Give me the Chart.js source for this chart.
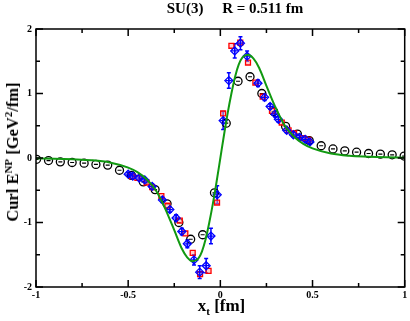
<!DOCTYPE html>
<html>
<head>
<meta charset="utf-8">
<script src="https://cdn.jsdelivr.net/npm/chart.js@4/dist/chart.umd.min.js"></script>
<style>
  body { margin: 0; background: #fff; }
  #wrap { position: relative; width: 410px; height: 321px; }
  #chart { position: absolute; left: 0; top: 0; }
  .lbl { position: absolute; font-family: "Liberation Serif", serif; font-weight: bold; color: #000; white-space: pre; }
  #title { left: 0; width: 470px; top: 0px; text-align: center; font-size: 15px; }
  #xtitle { left: 0; width: 443px; top: 296px; text-align: center; font-size: 17px; }
  #ytitle { left: 13px; top: 152px; font-size: 16.5px; transform: translate(-50%, -50%) rotate(-90deg); }
  sup { font-size: 11px; vertical-align: 6px; line-height: 0; }
  sub { font-size: 11px; vertical-align: -4px; line-height: 0; }
</style>
</head>
<body>
<div id="wrap">
  <canvas id="chart" width="410" height="321"></canvas>
  <div class="lbl" id="title">SU(3)     R = 0.511 fm</div>
  <div class="lbl" id="xtitle">x<sub>t</sub> [fm]</div>
  <div class="lbl" id="ytitle">Curl E<sup>NP</sup> [GeV<sup>2</sup>/fm]</div>
</div>
<script>
// black circles
const blackX = [-0.997, -0.932, -0.868, -0.804, -0.739, -0.675, -0.611, -0.547, -0.482, -0.418, -0.354, -0.289, -0.225, -0.161, -0.096, -0.032,
                0.032, 0.096, 0.161, 0.225, 0.289, 0.354, 0.418, 0.482, 0.547, 0.611, 0.675, 0.739, 0.804, 0.868, 0.932, 0.997];
const blackY = [-0.02, -0.04, -0.06, -0.07, -0.08, -0.10, -0.11, -0.19, -0.27, -0.37, -0.49, -0.71, -1.00, -1.26, -1.19, -0.54,
                0.54, 1.19, 1.26, 1.00, 0.72, 0.49, 0.37, 0.27, 0.19, 0.14, 0.11, 0.09, 0.07, 0.06, 0.05, 0.03];

// red squares
const redX = [-0.48, -0.45, -0.40, -0.37, -0.32, -0.287, -0.22, -0.19, -0.15, -0.11, -0.064, -0.018,
              0.015, 0.06, 0.108, 0.15, 0.19, 0.23, 0.28, 0.333, 0.37, 0.40, 0.45, 0.477];
const redY = [-0.28, -0.31, -0.38, -0.45, -0.59, -0.74, -0.97, -1.17, -1.47, -1.80, -1.75, -0.69,
              0.69, 1.74, 1.79, 1.48, 1.17, 0.95, 0.73, 0.55, 0.43, 0.38, 0.31, 0.28];

// blue diamonds with error bars
const blueX = [-0.50, -0.475, -0.44, -0.41, -0.37, -0.314, -0.274, -0.24, -0.209, -0.179, -0.143, -0.112, -0.077, -0.051, -0.017,
               0.015, 0.046, 0.078, 0.109, 0.145, 0.204, 0.24, 0.27, 0.297, 0.315, 0.36, 0.396, 0.43, 0.46, 0.486];
const blueY = [-0.25, -0.28, -0.31, -0.34, -0.44, -0.65, -0.80, -0.93, -1.14, -1.33, -1.58, -1.77, -1.67, -1.21, -0.57,
               0.58, 1.20, 1.66, 1.78, 1.58, 1.16, 0.94, 0.80, 0.68, 0.60, 0.43, 0.36, 0.32, 0.29, 0.25];
const blueErr = [0.03, 0.03, 0.03, 0.03, 0.04, 0.04, 0.04, 0.05, 0.05, 0.06, 0.08, 0.10, 0.11, 0.12, 0.14,
                 0.14, 0.12, 0.11, 0.10, 0.08, 0.05, 0.05, 0.04, 0.04, 0.04, 0.04, 0.03, 0.03, 0.03, 0.03];

// green curve
const greenX = [-1.0, -0.9, -0.8, -0.7, -0.6, -0.5, -0.45, -0.4, -0.35, -0.3, -0.25, -0.21, -0.18, -0.15, -0.12, -0.1, -0.08, -0.06, -0.04, -0.02, 0,
                0.02, 0.04, 0.06, 0.08, 0.1, 0.12, 0.15, 0.18, 0.21, 0.25, 0.3, 0.35, 0.4, 0.45, 0.5, 0.6, 0.7, 0.8, 0.9, 1.0];
const greenY = [-0.005, -0.01, -0.02, -0.035, -0.07, -0.15, -0.22, -0.33, -0.50, -0.78, -1.12, -1.40, -1.54, -1.60, -1.56, -1.45, -1.26, -1.00, -0.70, -0.36, 0,
                0.36, 0.70, 1.00, 1.26, 1.45, 1.56, 1.60, 1.54, 1.40, 1.12, 0.78, 0.50, 0.33, 0.22, 0.15, 0.07, 0.035, 0.02, 0.01, 0.005];

const xMajor = [-1, -0.5, 0, 0.5, 1];
const xMinor = [-0.75, -0.25, 0.25, 0.75];
const yMajor = [-2, -1, 0, 1, 2];
const yMinor = [-1.5, -0.5, 0.5, 1.5];

function pts(xs, ys) {
    return xs.map((x, i) => ({ x: x, y: ys[i] }));
}

const fontTick = { family: 'Liberation Serif', weight: 'bold', size: 10 };

// inward tick marks on all four sides + frame
const framePlugin = {
    id: 'frame',
    afterDatasetsDraw(chart) {
        const ctx = chart.ctx;
        const a = chart.chartArea;
        const xs = chart.scales.x, ys = chart.scales.y;
        ctx.save();
        ctx.strokeStyle = '#000';
        ctx.lineWidth = 1.5;
        ctx.beginPath();
        const tick = (vals, len) => {
            vals.forEach(v => {
                const px = xs.getPixelForValue(v);
                ctx.moveTo(px, a.bottom); ctx.lineTo(px, a.bottom - len);
                ctx.moveTo(px, a.top); ctx.lineTo(px, a.top + len);
            });
        };
        const ytick = (vals, len) => {
            vals.forEach(v => {
                const py = ys.getPixelForValue(v);
                ctx.moveTo(a.left, py); ctx.lineTo(a.left + len, py);
                ctx.moveTo(a.right, py); ctx.lineTo(a.right - len, py);
            });
        };
        tick(xMajor, 7); tick(xMinor, 4);
        ytick(yMajor, 7); ytick(yMinor, 4);
        ctx.stroke();
        ctx.strokeRect(a.left, a.top, a.right - a.left, a.bottom - a.top);
        ctx.restore();
    }
};

// vertical error bars for the blue set
const errPlugin = {
    id: 'errbars',
    beforeDatasetsDraw(chart) {
        const ctx = chart.ctx;
        const xs = chart.scales.x, ys = chart.scales.y;
        ctx.save();
        ctx.strokeStyle = '#0000ff';
        ctx.lineWidth = 1.5;
        ctx.beginPath();
        blueX.forEach((x, i) => {
            const px = xs.getPixelForValue(x);
            const y1 = ys.getPixelForValue(blueY[i] + blueErr[i]);
            const y2 = ys.getPixelForValue(blueY[i] - blueErr[i]);
            ctx.moveTo(px, y1); ctx.lineTo(px, y2);
            ctx.moveTo(px - 2, y1); ctx.lineTo(px + 2, y1);
            ctx.moveTo(px - 2, y2); ctx.lineTo(px + 2, y2);
        });
        ctx.stroke();
        ctx.restore();
    }
};

new Chart(document.getElementById('chart'), {
    type: 'scatter',
    data: {
        datasets: [
            {
                label: 'lattice circles',
                data: pts(blackX, blackY),
                pointStyle: 'circle',
                pointRadius: 4,
                borderColor: '#000',
                backgroundColor: 'rgba(0,0,0,0)',
                borderWidth: 1.3,
                order: 5
            },
            {
                label: 'lattice circles inner',
                data: pts(blackX, blackY),
                pointStyle: 'line',
                pointRadius: 2,
                borderColor: '#000',
                borderWidth: 1.2,
                order: 4
            },
            {
                label: 'red squares',
                data: pts(redX, redY),
                pointStyle: 'rect',
                pointRadius: 3.5,
                borderColor: '#ff0000',
                backgroundColor: 'rgba(255,160,160,0.5)',
                borderWidth: 1.3,
                order: 3
            },
            {
                label: 'blue diamonds',
                data: pts(blueX, blueY),
                pointStyle: 'rectRot',
                pointRadius: 4,
                borderColor: '#0000ff',
                backgroundColor: 'rgba(0,0,0,0)',
                borderWidth: 1.3,
                order: 2
            },
            {
                label: 'blue cross',
                data: pts(blueX, blueY),
                pointStyle: 'cross',
                pointRadius: 3,
                borderColor: '#0000ff',
                borderWidth: 1.2,
                order: 1
            },
            {
                type: 'line',
                label: 'fit',
                data: pts(greenX, greenY),
                borderColor: '#119911',
                borderWidth: 2,
                pointRadius: 0,
                tension: 0.4,
                cubicInterpolationMode: 'monotone',
                fill: false,
                order: 0
            }
        ]
    },
    options: {
        responsive: false,
        animation: false,
        layout: { padding: { left: 0, right: 3, top: 29, bottom: 0 } },
        plugins: {
            legend: { display: false },
            tooltip: { enabled: false }
        },
        scales: {
            x: {
                type: 'linear',
                min: -1,
                max: 1,
                grid: { display: false, drawTicks: false },
                border: { display: false },
                ticks: {
                    stepSize: 0.5,
                    padding: 2,
                    color: '#000',
                    font: fontTick,
                    maxRotation: 0,
                    callback: v => String(v)
                },
                afterFit: s => { s.height = 34; }
            },
            y: {
                type: 'linear',
                min: -2,
                max: 2,
                grid: { display: false, drawTicks: false },
                border: { display: false },
                ticks: {
                    stepSize: 1,
                    padding: 4,
                    color: '#000',
                    font: fontTick,
                    callback: v => String(v)
                },
                afterFit: s => { s.width = 36; }
            }
        }
    },
    plugins: [errPlugin, framePlugin]
});
</script>
</body>
</html>
